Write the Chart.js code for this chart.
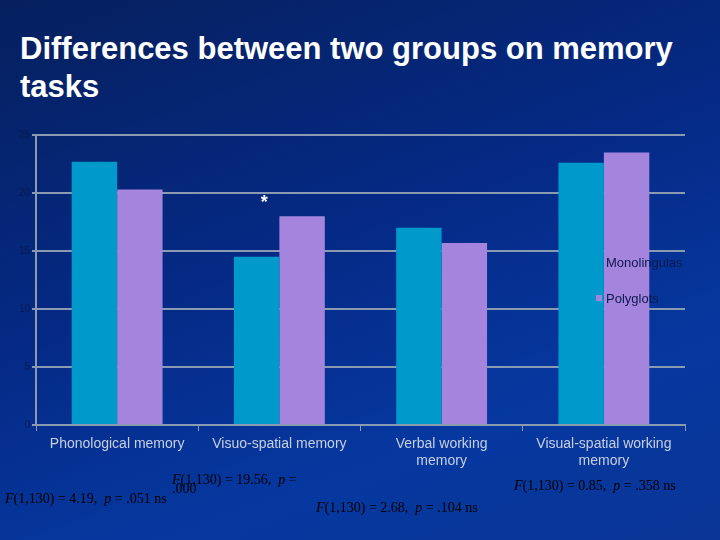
<!DOCTYPE html>
<html><head><meta charset="utf-8">
<script src="https://cdn.jsdelivr.net/npm/chart.js@4"></script>
<style>
html,body{margin:0;padding:0;}
body{width:720px;height:540px;background:linear-gradient(160deg,#06205e 0%,#052a86 45%,#0638a0 75%,#0a3596 100%);position:relative;overflow:hidden;font-family:"Liberation Sans",Arial,sans-serif;}
#t{position:absolute;left:20px;top:30px;color:#fff;font-size:31px;font-weight:bold;line-height:38px;}
canvas{position:absolute;left:0;top:0;}
</style></head><body>
<div id="t">Differences between two groups on memory<br>tasks</div>
<canvas id="c" width="720" height="540"></canvas>
<script>
const categories = ["Phonological memory", "Visuo-spatial memory", ["Verbal working","memory"], ["Visual-spatial working","memory"]];
const monolingual = [22.7, 14.5, 17.0, 22.6];
const polyglots = [20.3, 18.0, 15.7, 23.5];
const yTicks = [0, 5, 10, 15, 20, 25];
const seriesNames = ["Monolingulas", "Polyglots"];

const overlay = {
  id: 'overlay',
  afterDraw(chart) {
    const ctx = chart.ctx;
    const x = chart.scales.x, y = chart.scales.y;
    ctx.save();
    ctx.fillStyle = '#fff';
    ctx.font = 'bold 18px "Liberation Sans"';
    ctx.textAlign = 'center';
    ctx.textBaseline = 'middle';
    ctx.fillText('*', x.getPixelForValue(1) - 15, y.getPixelForValue(19.1));
    ctx.textAlign = 'left';
    ctx.font = '13px "Liberation Sans"';
    ctx.fillStyle = '#0a1a50';
    ctx.fillText(seriesNames[0], 606, 263);
    ctx.fillText(seriesNames[1], 606, 299);
    ctx.fillStyle = '#a584dd';
    ctx.fillRect(596, 295, 6, 6);
    ctx.fillStyle = '#000';
    ctx.textBaseline = 'alphabetic';
    const F = '14px "Liberation Serif"', FI = 'italic 14px "Liberation Serif"';
    function stat(str, xx, yy) {
      ctx.font = FI;
      ctx.fillText('F', xx, yy);
      let w = ctx.measureText('F').width;
      const parts = str.split('p');
      ctx.font = F;
      ctx.fillText(parts[0], xx + w, yy);
      w += ctx.measureText(parts[0]).width;
      if (parts.length > 1) {
        ctx.font = FI;
        ctx.fillText('p', xx + w, yy);
        w += ctx.measureText('p').width;
        ctx.font = F;
        ctx.fillText(parts[1], xx + w, yy);
      }
    }
    stat('(1,130) = 19.56,  p =', 172, 484);
    stat('(1,130) = 4.19,  p = .051 ns', 5, 503);
    ctx.font = F;
    ctx.fillText('.000', 172, 493);
    stat('(1,130) = 2.68,  p = .104 ns', 316, 512);
    stat('(1,130) = 0.85,  p = .358 ns', 514, 490);
    ctx.restore();
  }
};

new Chart(document.getElementById('c'), {
  type: 'bar',
  data: {
    labels: categories,
    datasets: [
      { label: seriesNames[0], data: monolingual, backgroundColor: '#0099cc', categoryPercentage: 0.56, barPercentage: 1 },
      { label: seriesNames[1], data: polyglots, backgroundColor: '#a584dd', categoryPercentage: 0.56, barPercentage: 1 }
    ]
  },
  options: {
    responsive: false, animation: false,
    layout: { padding: { left: 0, right: 35, top: 135, bottom: 0 } },
    plugins: { legend: { display: false }, tooltip: { enabled: false } },
    scales: {
      x: {
        grid: { display: true, drawOnChartArea: false, color: '#8a9ab0', tickLength: 6, offset: true },
        border: { color: '#8a9ab0', width: 2 },
        ticks: { color: '#c8cfe0', font: { size: 14, family: '"Liberation Sans"' }, maxRotation: 0, autoSkip: false, padding: 5 },
        afterFit(s) { s.height = 115; }
      },
      y: {
        min: 0, max: 25,
        afterBuildTicks(s) { s.ticks = yTicks.map(v => ({ value: v })); },
        grid: { color: '#8a9ab0', lineWidth: 2, tickLength: 4 },
        border: { color: '#8a9ab0', width: 2 },
        ticks: { color: '#0a1a50', font: { size: 10, family: '"Liberation Sans"' }, padding: 2 },
        afterFit(s) { s.width = 36; }
      }
    }
  },
  plugins: [overlay]
});
</script>
</body></html>
